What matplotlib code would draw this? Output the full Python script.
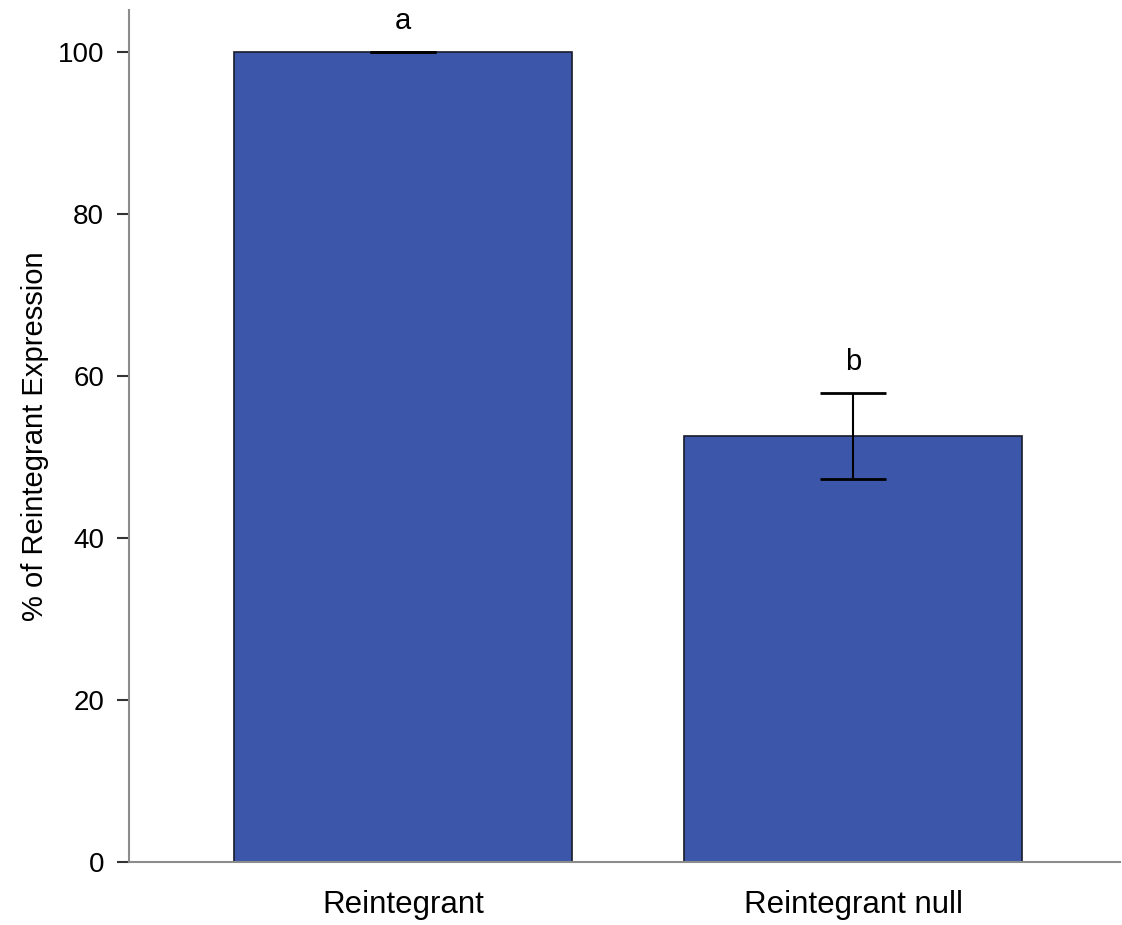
#!/usr/bin/env python3

import matplotlib
matplotlib.use("Agg")
from matplotlib import pyplot as plt

groups = ["Reintegrant", "Reintegrant null"]
means = [100.0, 52.6]
errors = [0.0, 5.3]
letters = ["a", "b"]
yticks = [0, 20, 40, 60, 80, 100]

BAR_COLOR = "#3c57a9"

plt.rcParams["font.family"] = ["Liberation Sans", "DejaVu Sans"]


def plot_expression():
	fig = plt.figure(figsize=(11.22, 9.25), dpi=100)
	ax = fig.add_axes([0.115, 0.068, 0.883, 0.921])

	x = list(range(len(groups)))
	ax.bar(x, means, width=0.75, color=BAR_COLOR, edgecolor="#1a1a2a", linewidth=1.2, zorder=2)
	ax.errorbar(x, means, yerr=errors, fmt="none", ecolor="black", elinewidth=1.5,
			capsize=24, capthick=2, zorder=3)

	for xi, m, e, lab in zip(x, means, errors, letters):
		ax.text(xi, m + e + 2.1, lab, ha="center", va="bottom", fontsize=21)

	ax.set_xlim(-0.608, 1.592)
	ax.set_ylim(0, 105.2)
	ax.set_xticks(x)
	ax.set_xticklabels(groups, fontsize=22.5)
	ax.set_yticks(yticks)
	ax.set_yticklabels([str(t) for t in yticks], fontsize=20)
	ax.set_ylabel("% of Reintegrant Expression", fontsize=21, labelpad=6)

	for side in ["top", "right"]:
		ax.spines[side].set_visible(False)
	for side in ["left", "bottom"]:
		ax.spines[side].set_color("#8c8c8c")
		ax.spines[side].set_linewidth(1.5)
	ax.tick_params(axis="y", direction="out", length=9, width=1.5, color="#333333", pad=9)
	ax.tick_params(axis="x", length=0, pad=20)

	plt.savefig("out.png", dpi=100)
	plt.close()


if __name__ == "__main__":
	plot_expression()
